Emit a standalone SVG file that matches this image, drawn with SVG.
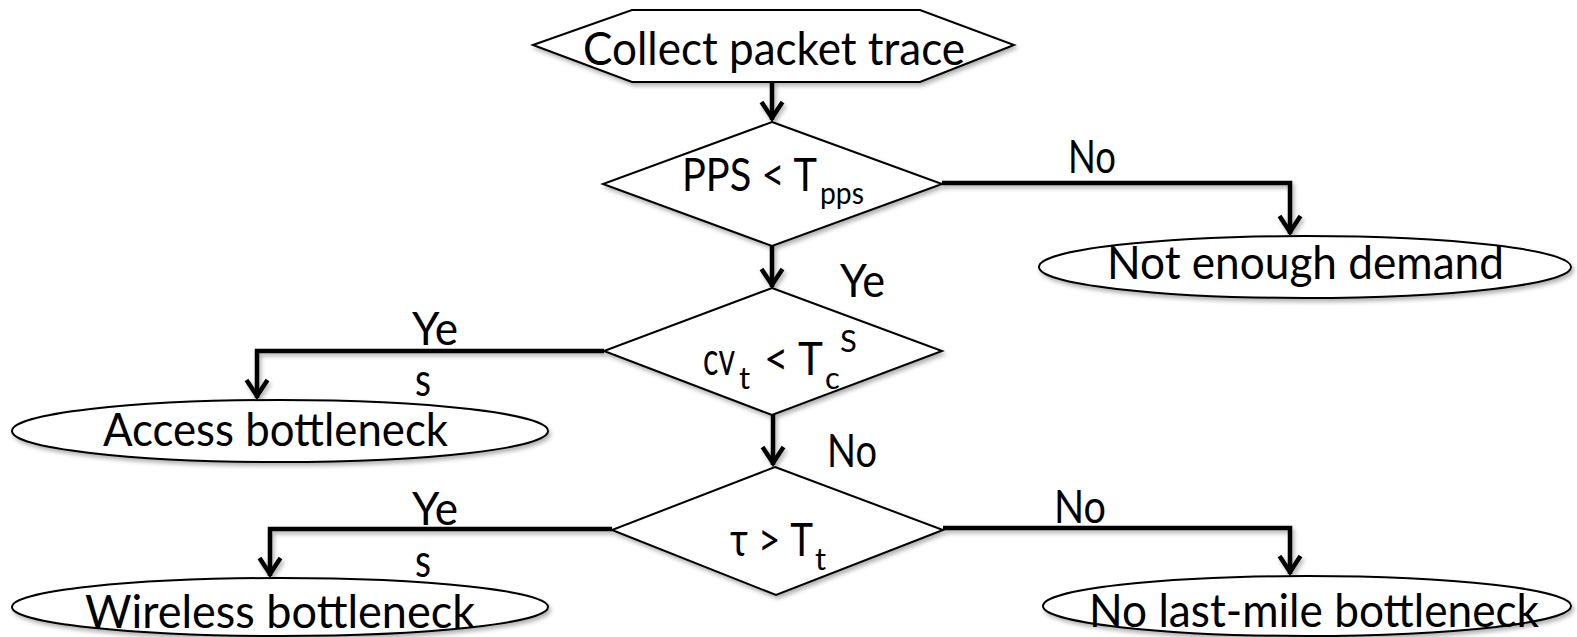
<svg xmlns="http://www.w3.org/2000/svg" width="1577" height="637" viewBox="0 0 1577 637">
<defs>
<filter id="sh" filterUnits="userSpaceOnUse" x="0" y="0" width="1577" height="637">
<feDropShadow dx="2" dy="3" stdDeviation="2" flood-color="#000" flood-opacity="0.3"/>
</filter>
<marker id="ah" markerUnits="userSpaceOnUse" viewBox="-22 -13 26 26" refX="0" refY="0" markerWidth="26" markerHeight="26" orient="auto" overflow="visible">
<path d="M-18,-10.5 L-2,0 L-18,10.5" fill="none" stroke="#000" stroke-width="4.5"/>
</marker>
<style>
.shape{fill:#fff;stroke:#000;stroke-width:2;filter:url(#sh)}
.conn{fill:none;stroke:#000;stroke-width:4.5;marker-end:url(#ah);filter:url(#sh)}
text{font-family:Lato,"Open Sans","Liberation Sans",sans-serif;fill:#000}
.t{font-size:46px}
.s{font-size:31px}
</style>
</defs>
<g id="connectors">
<path class="conn" d="M772,82 V120"/>
<path class="conn" d="M772,246 V287"/>
<path class="conn" d="M773,415 V465"/>
<path class="conn" d="M942,183 H1290 V234"/>
<path class="conn" d="M604,351 H257 V398"/>
<path class="conn" d="M612,529 H270 V576"/>
<path class="conn" d="M943,528 H1290 V574"/>
</g>
<g id="labels">
<text class="t" x="1068" y="173" textLength="48" lengthAdjust="spacingAndGlyphs">No</text>
<text class="t" x="840" y="297" textLength="45" lengthAdjust="spacingAndGlyphs">Ye</text>
<text class="t" x="412" y="345" textLength="46" lengthAdjust="spacingAndGlyphs">Ye</text>
<text class="t" x="415" y="396" textLength="16" lengthAdjust="spacingAndGlyphs">s</text>
<text class="t" x="827" y="467" textLength="50" lengthAdjust="spacingAndGlyphs">No</text>
<text class="t" x="412" y="525" textLength="46" lengthAdjust="spacingAndGlyphs">Ye</text>
<text class="t" x="415" y="577" textLength="16" lengthAdjust="spacingAndGlyphs">s</text>
<text class="t" x="1054" y="523" textLength="52" lengthAdjust="spacingAndGlyphs">No</text>
</g>
<g id="collect">
<polygon class="shape" points="533,45 632,10 920,10 1014,45 920,82 632,82"/>
<text class="t" x="583" y="65" textLength="382" lengthAdjust="spacingAndGlyphs">Collect packet trace</text>
</g>
<g id="pps">
<polygon class="shape" points="772,122 942,184 772,246 603,184"/>
<text class="t" x="682" y="191"><tspan textLength="135" lengthAdjust="spacingAndGlyphs">PPS &lt; T</tspan><tspan class="s" x="820" y="204" textLength="44" lengthAdjust="spacingAndGlyphs">pps</tspan></text>
</g>
<g id="cv">
<polygon class="shape" points="772,288 942,351 772,415 604,351"/>
<text class="t" x="703" y="375"><tspan textLength="32" lengthAdjust="spacingAndGlyphs">cv</tspan><tspan class="s" x="739" y="389">t</tspan><tspan x="764" y="375" textLength="59" lengthAdjust="spacingAndGlyphs">&lt; T</tspan><tspan class="s" x="825" y="389">c</tspan><tspan class="s" x="840" y="352">S</tspan></text>
</g>
<g id="tau">
<polygon class="shape" points="775,467 943,530 776,595 612,530"/>
<text class="t" x="730" y="556"><tspan textLength="83" lengthAdjust="spacingAndGlyphs">τ &gt; T</tspan><tspan class="s" x="815" y="570">t</tspan></text>
</g>
<g id="not-enough-demand">
<ellipse class="shape" cx="1305" cy="267" rx="266" ry="31"/>
<text class="t" x="1107" y="279" textLength="397" lengthAdjust="spacingAndGlyphs">Not enough demand</text>
</g>
<g id="access-bottleneck">
<ellipse class="shape" cx="280" cy="431" rx="268" ry="31"/>
<text class="t" x="103" y="446" textLength="345" lengthAdjust="spacingAndGlyphs">Access bottleneck</text>
</g>
<g id="wireless-bottleneck">
<ellipse class="shape" cx="280" cy="607" rx="268" ry="29"/>
<text class="t" x="85" y="628" textLength="390" lengthAdjust="spacingAndGlyphs">Wireless bottleneck</text>
</g>
<g id="no-last-mile">
<ellipse class="shape" cx="1307" cy="606" rx="264" ry="30"/>
<text class="t" x="1089" y="627" textLength="450" lengthAdjust="spacingAndGlyphs">No last-mile bottleneck</text>
</g>
</svg>
